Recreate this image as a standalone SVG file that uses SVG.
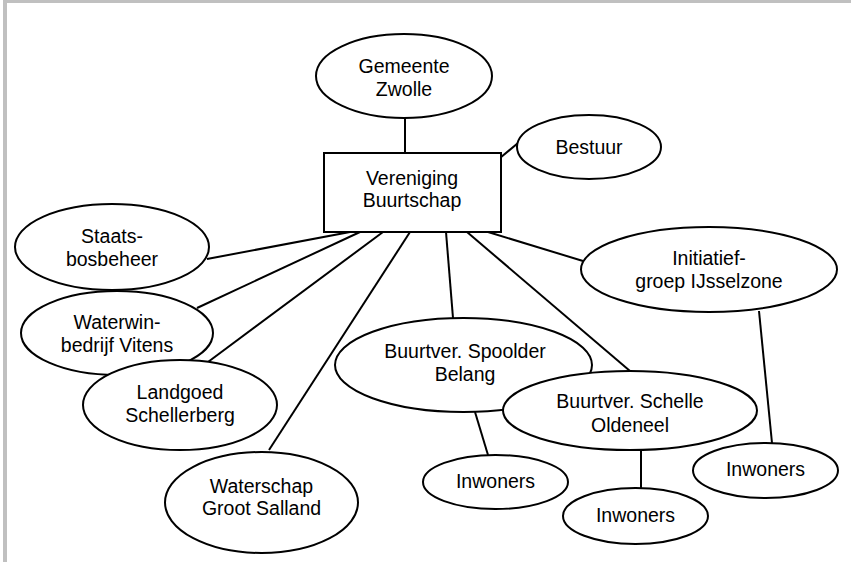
<svg xmlns="http://www.w3.org/2000/svg" width="851" height="562" viewBox="0 0 851 562">
<style>
.frame{fill:#c0c0c0;stroke:none}
.node{fill:#ffffff;stroke:#000000;stroke-width:2}
.edge{stroke:#000000;stroke-width:2;fill:none}
text{font-family:"Liberation Sans",Arial,sans-serif;font-size:19.5px;fill:#000000;text-anchor:middle}
</style>
<rect width="851" height="562" fill="#ffffff"/>
<rect class="frame" x="3" y="0" width="848" height="3"/>
<rect class="frame" x="3" y="0" width="4" height="562"/>
<g id="connectors">
<line class="edge" x1="405" y1="118" x2="405" y2="153"/>
<line class="edge" x1="500" y1="158" x2="518" y2="143"/>
<line class="edge" x1="207" y1="259" x2="350" y2="232"/>
<line class="edge" x1="197" y1="308" x2="360" y2="232"/>
<line class="edge" x1="208" y1="362" x2="383" y2="232"/>
<line class="edge" x1="269" y1="450" x2="410" y2="232"/>
<line class="edge" x1="446" y1="232" x2="453" y2="318"/>
<line class="edge" x1="467" y1="232" x2="630" y2="371"/>
<line class="edge" x1="488" y1="232" x2="583" y2="261"/>
<line class="edge" x1="475" y1="412" x2="488" y2="455"/>
<line class="edge" x1="641" y1="450" x2="641" y2="488"/>
<line class="edge" x1="759" y1="311" x2="772" y2="443"/>
</g>
<g id="gemeente">
<ellipse class="node" cx="404" cy="76" rx="88" ry="42"/>
<text x="404" y="73">Gemeente</text>
<text x="404" y="96">Zwolle</text>
</g>
<g id="bestuur">
<ellipse class="node" cx="589" cy="147" rx="72" ry="32"/>
<text x="589" y="154">Bestuur</text>
</g>
<g id="vereniging">
<rect class="node" x="324" y="153" width="177" height="79"/>
<text x="412" y="185">Vereniging</text>
<text x="412" y="207">Buurtschap</text>
</g>
<g id="staatsbosbeheer">
<ellipse class="node" cx="112" cy="247" rx="97" ry="43"/>
<text x="112" y="243">Staats-</text>
<text x="112" y="266">bosbeheer</text>
</g>
<g id="vitens">
<ellipse class="node" cx="117" cy="333" rx="96" ry="42"/>
<text x="117" y="329">Waterwin-</text>
<text x="117" y="352">bedrijf Vitens</text>
</g>
<g id="landgoed">
<ellipse class="node" cx="180" cy="405" rx="97" ry="45"/>
<text x="180" y="399">Landgoed</text>
<text x="180" y="422">Schellerberg</text>
</g>
<g id="waterschap">
<ellipse class="node" cx="261.5" cy="502.5" rx="96.5" ry="50.5"/>
<text x="261.5" y="493">Waterschap</text>
<text x="261.5" y="515">Groot Salland</text>
</g>
<g id="spoolder">
<ellipse class="node" cx="463.5" cy="365" rx="128.5" ry="47"/>
<text x="465" y="358">Buurtver. Spoolder</text>
<text x="465" y="381">Belang</text>
</g>
<g id="schelle">
<ellipse class="node" cx="630" cy="410.5" rx="127" ry="39.5"/>
<text x="630" y="408">Buurtver. Schelle</text>
<text x="630" y="432">Oldeneel</text>
</g>
<g id="initiatief">
<ellipse class="node" cx="709" cy="269.5" rx="128" ry="42.5"/>
<text x="709" y="265">Initiatief-</text>
<text x="709" y="288">groep IJsselzone</text>
</g>
<g id="inwoners1">
<ellipse class="node" cx="495.5" cy="482" rx="72.5" ry="27"/>
<text x="495.5" y="488">Inwoners</text>
</g>
<g id="inwoners2">
<ellipse class="node" cx="635.5" cy="516" rx="72.5" ry="28"/>
<text x="635.5" y="522">Inwoners</text>
</g>
<g id="inwoners3">
<ellipse class="node" cx="765.5" cy="470.5" rx="72.5" ry="27.5"/>
<text x="765.5" y="476">Inwoners</text>
</g>
</svg>
